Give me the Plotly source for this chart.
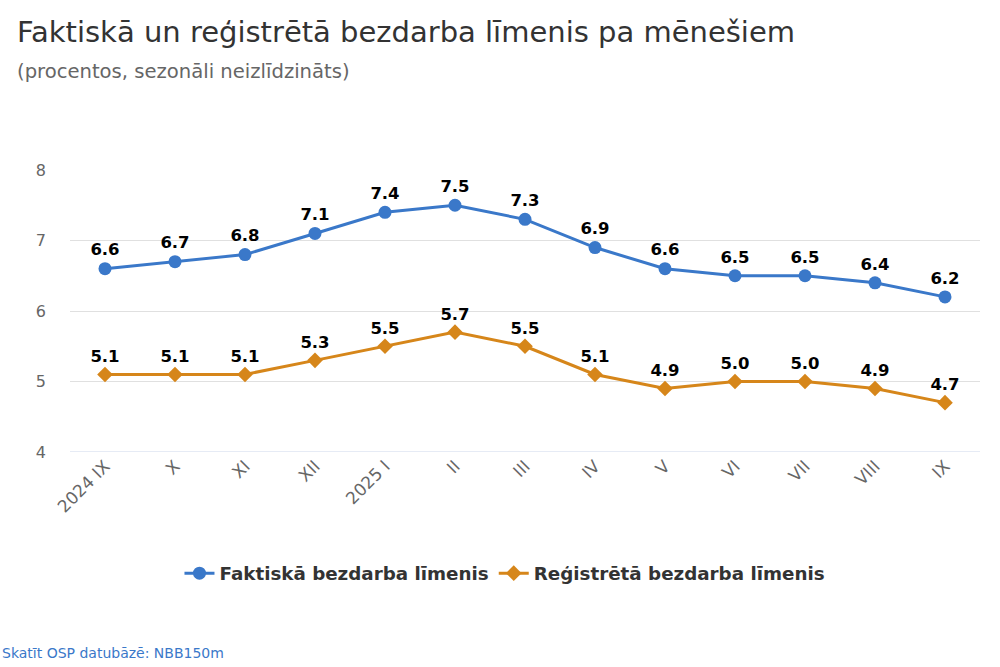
import plotly.graph_objects as go

categories = ["2024 IX", "X", "XI", "XII", "2025 I", "II", "III", "IV", "V", "VI", "VII", "VIII", "IX"]
faktiska = [6.6, 6.7, 6.8, 7.1, 7.4, 7.5, 7.3, 6.9, 6.6, 6.5, 6.5, 6.4, 6.2]
registreta = [5.1, 5.1, 5.1, 5.3, 5.5, 5.7, 5.5, 5.1, 4.9, 5.0, 5.0, 4.9, 4.7]
y_ticks = [4, 5, 6, 7, 8]

BLUE = "#3a78c9"
ORANGE = "#d6861a"
FONT = "DejaVu Sans"

fig = go.Figure()
fig.add_trace(go.Scatter(
    x=categories, y=faktiska, name="Faktiskā bezdarba līmenis",
    mode="lines+markers+text",
    line=dict(color=BLUE, width=3),
    marker=dict(symbol="circle", size=13, color=BLUE),
    text=[f"{v:.1f}" for v in faktiska], textposition="top center",
    textfont=dict(family=FONT, size=16.5, color="#000000", weight="bold"),
    cliponaxis=False,
))
fig.add_trace(go.Scatter(
    x=categories, y=registreta, name="Reģistrētā bezdarba līmenis",
    mode="lines+markers+text",
    line=dict(color=ORANGE, width=3),
    marker=dict(symbol="diamond", size=12, color=ORANGE),
    text=[f"{v:.1f}" for v in registreta], textposition="top center",
    textfont=dict(family=FONT, size=16.5, color="#000000", weight="bold"),
    cliponaxis=False,
))

fig.update_layout(
    width=1000, height=667,
    margin=dict(l=70, r=20, t=170, b=215),
    paper_bgcolor="white", plot_bgcolor="white",
    font=dict(family=FONT, color="#666666"),
    showlegend=True,
    legend=dict(orientation="h", x=0.478, xanchor="center", y=-0.43, yanchor="middle",
                font=dict(family=FONT, size=18.3, color="#333333", weight="bold"),
                itemwidth=30),
    xaxis=dict(type="category", range=[-0.5, len(categories) - 0.5],
               tickangle=-45, tickfont=dict(family=FONT, size=17, color="#666666"),
               showgrid=False, showline=False, ticks="", zeroline=False),
    yaxis=dict(range=[4, 8], tickvals=y_ticks, ticktext=[str(t) for t in y_ticks],
               tickfont=dict(family=FONT, size=16, color="#666666"),
               showgrid=True, gridcolor="#e0e0e0", gridwidth=1,
               zeroline=False, showline=False, ticks="", ticklabelstandoff=23),
    annotations=[
        dict(text="Faktiskā un reģistrētā bezdarba līmenis pa mēnešiem",
             xref="paper", yref="paper", x=-0.0604, y=1.489, xanchor="left", yanchor="middle",
             showarrow=False, font=dict(family=FONT, size=29, color="#333333")),
        dict(text="(procentos, sezonāli neizlīdzināts)",
             xref="paper", yref="paper", x=-0.0604, y=1.348, xanchor="left", yanchor="middle",
             showarrow=False, font=dict(family=FONT, size=19.6, color="#666666")),
        dict(text="Skatīt OSP datubāzē: NBB150m",
             xref="paper", yref="paper", x=-0.077, y=-0.713, xanchor="left", yanchor="middle",
             showarrow=False, font=dict(family=FONT, size=14, color="#3a78c9")),
    ],
    shapes=[dict(type="line", xref="paper", yref="y", x0=0, x1=1, y0=4, y1=4,
                 line=dict(color="#ccd6eb", width=1))],
)

fig.write_html("out.html", config={"displayModeBar": False},
               post_script="document.body.style.margin='0px';")
